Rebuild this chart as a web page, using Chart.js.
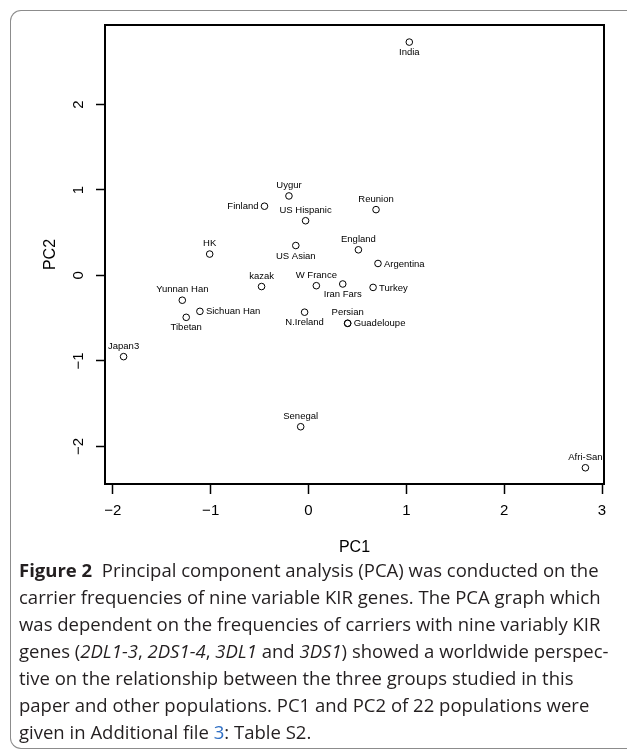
<!DOCTYPE html>
<html>
<head>
<meta charset="utf-8">
<script src="https://cdn.jsdelivr.net/npm/chart.js@4.4.1/dist/chart.umd.min.js"></script>
<style>
  html, body { margin: 0; padding: 0; background: #fff; overflow: hidden; }
  body { width: 627px; height: 749px; position: relative; }
  /* cadre gris arrondi autour de la figure */
  .cadre {
    position: absolute; left: 10px; top: 10px; width: 720px; height: 737px;
    border: 1px solid #8c8c8c; border-right: none; border-radius: 11px 0 0 11px;
  }
  #graphique { position: absolute; left: 0; top: 0; }
  .legende {
    position: absolute; left: 19px; top: 556px;
    font-family: "Open Sans", "Noto Sans", sans-serif; color: #231f20;
    line-height: 27px; white-space: nowrap;
  }
  .legende b { font-weight: 700; }
  .legende .lien { color: #2f6fc4; }
</style>
</head>
<body>
<div class="cadre"></div>
<canvas id="graphique" width="627" height="600"></canvas>
<div class="legende" id="legende">
  <span id="ligneRef"><b>Figure 2</b>&nbsp; Principal component analysis (PCA) was conducted on the</span><br>
  <span id="ligne2">carrier frequencies of nine variable KIR genes. The PCA graph which</span><br>
  was dependent on the frequencies of carriers with nine variably KIR<br>
  genes (<i>2DL1-3</i>, <i>2DS1-4</i>, <i>3DL1</i> and <i>3DS1</i>) showed a worldwide perspec-<br>
  tive on the relationship between the three groups studied in this<br>
  paper and other populations. PC1 and PC2 of 22 populations were<br>
  given in Additional file <span class="lien">3</span>: Table S2.
</div>
<script>
// Données (PCA, 22 populations)
const populations = ["India", "Uygur", "Finland", "US Hispanic", "Reunion", "HK", "US Asian",
  "England", "Argentina", "kazak", "W France", "Iran Fars", "Turkey", "Yunnan Han",
  "Sichuan Han", "Tibetan", "Persian", "N.Ireland", "Guadeloupe", "Japan3", "Senegal", "Afri-San"];
const pc1 = [1.03, -0.20, -0.45, -0.03, 0.69, -1.01, -0.13, 0.51, 0.71, -0.48, 0.08, 0.35,
  0.66, -1.29, -1.11, -1.25, 0.40, -0.04, 0.40, -1.89, -0.08, 2.83];
const pc2 = [2.73, 0.93, 0.81, 0.64, 0.77, 0.25, 0.35, 0.30, 0.14, -0.13, -0.12, -0.10,
  -0.14, -0.29, -0.42, -0.49, -0.56, -0.43, -0.56, -0.95, -1.77, -2.25];
// côté de l'étiquette par rapport au point
const cotesEtiquettes = ["below", "above", "left", "above", "above", "above", "below",
  "above", "right", "above", "above", "below", "right", "above", "right", "below",
  "above", "below", "right", "above", "above", "above"];
const ticksX = [-2, -1, 0, 1, 2, 3];
const ticksY = [-2, -1, 0, 1, 2];

const police = '"Liberation Sans", Arial, Helvetica, sans-serif';
const moins = (v) => String(v).replace("-", "\u2212");

// Cadre noir autour de la zone de tracé
const cadrePlugin = {
  id: "cadre",
  afterDraw(chart) {
    const { ctx, chartArea: a } = chart;
    ctx.save();
    ctx.strokeStyle = "#000";
    ctx.lineWidth = 2;
    ctx.strokeRect(a.left, a.top, a.right - a.left, a.bottom - a.top);
    ctx.restore();
  }
};

// Étiquettes des populations à côté des cercles
const etiquettesPlugin = {
  id: "etiquettes",
  afterDatasetsDraw(chart) {
    const ctx = chart.ctx;
    const meta = chart.getDatasetMeta(0);
    ctx.save();
    ctx.font = "9.5px " + police;
    ctx.fillStyle = "#000";
    meta.data.forEach((pt, i) => {
      const cote = cotesEtiquettes[i];
      let x = pt.x, y = pt.y;
      ctx.textBaseline = "middle";
      ctx.textAlign = "center";
      if (cote === "above") y -= 10.5;
      else if (cote === "below") y += 10.5;
      else if (cote === "left") { ctx.textAlign = "right"; x -= 6; y += 0.5; }
      else { ctx.textAlign = "left"; x += 6; y += 0.5; }
      ctx.fillText(populations[i], x, y);
    });
    ctx.restore();
  }
};

const ctx = document.getElementById("graphique").getContext("2d");
new Chart(ctx, {
  type: "scatter",
  data: {
    datasets: [{
      data: pc1.map((v, i) => ({ x: v, y: pc2[i] })),
      pointStyle: "circle",
      pointRadius: 3.3,
      borderColor: "#000",
      borderWidth: 1,
      backgroundColor: "rgba(0,0,0,0)"
    }]
  },
  options: {
    responsive: false,
    animation: false,
    events: [],
    layout: { padding: { top: 25, right: 23, left: 0, bottom: 0 } },
    plugins: { legend: { display: false }, tooltip: { enabled: false } },
    scales: {
      x: {
        type: "linear",
        min: -2.08, max: 3.02,
        afterBuildTicks: (s) => { s.ticks = ticksX.map((v) => ({ value: v })); },
        afterFit: (s) => { s.height = 116; },
        border: { display: false },
        grid: { drawOnChartArea: false, drawTicks: true, tickLength: 10, tickWidth: 1.5, tickColor: "#000" },
        ticks: { color: "#000", font: { family: police, size: 15 }, padding: 8, callback: (v) => moins(v) },
        title: { display: true, text: "PC1", color: "#000", font: { family: police, size: 16 }, padding: { bottom: 43 } }
      },
      y: {
        type: "linear",
        min: -2.44, max: 2.93,
        afterBuildTicks: (s) => { s.ticks = ticksY.map((v) => ({ value: v })); },
        afterFit: (s) => { s.width = 105; },
        border: { display: false },
        grid: { drawOnChartArea: false, drawTicks: true, tickLength: 9, tickWidth: 1.5, tickColor: "#000" },
        ticks: {
          color: "#000", font: { family: police, size: 15 }, padding: 9,
          minRotation: 90, maxRotation: 90, crossAlign: "center",
          callback: (v) => moins(v)
        },
        title: { display: true, text: "PC2", color: "#000", font: { family: police, size: 16 }, padding: { top: 41 } }
      }
    }
  },
  plugins: [cadrePlugin, etiquettesPlugin]
});

// Ajuste la taille de la légende pour retrouver la largeur des lignes
const legende = document.getElementById("legende");
legende.style.fontSize = "20px";
const largeur = document.getElementById("ligne2").getBoundingClientRect().width;
legende.style.fontSize = (20 * 582 / largeur).toFixed(2) + "px";
</script>
</body>
</html>
